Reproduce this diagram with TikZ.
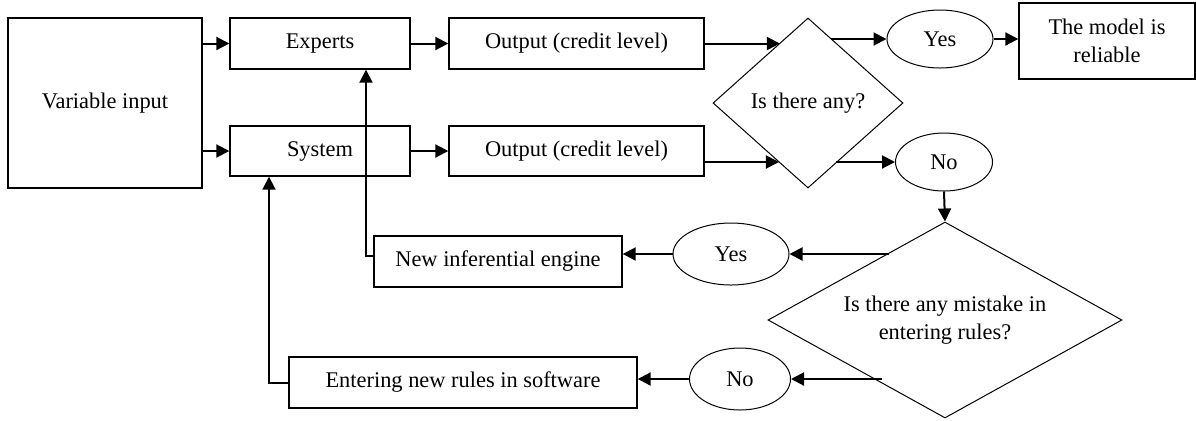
\documentclass[tikz,border=0pt]{standalone}
\usepackage{fontspec}
\setmainfont{Liberation Serif}
\usetikzlibrary{shapes.geometric,arrows.meta}
\begin{document}
\begin{tikzpicture}[x=0.5pt, y=-0.5pt,
        font=\fontsize{11.2}{14}\selectfont,
        box/.style={rectangle, draw=black, line width=0.7pt, inner sep=0pt, align=center},
        oval/.style={ellipse, draw=black, line width=0.5pt, inner sep=0pt},
        query/.style={diamond, draw=black, line width=0.5pt, inner sep=0pt, align=center},
        arr/.style={line width=1pt, -{Triangle[length=6.5pt, width=6.5pt]}}]
                \useasboundingbox (0,0) rectangle (1196,420);
                \node[box, minimum width=97pt, minimum height=85pt] (input) at (105,103) {Variable input};
                \node[box, minimum width=90pt, minimum height=25.5pt] (experts) at (320,43.5) {Experts};
                \node[box, minimum width=90pt, minimum height=25pt] (system) at (320,151) {System};
                \node[box, minimum width=127.5pt, minimum height=25.5pt] (out1) at (576.5,43.5) {Output (credit level)};
                \node[box, minimum width=127.5pt, minimum height=25pt] (out2) at (576.5,151) {Output (credit level)};
                \node[query, aspect=1.12, minimum width=95pt, minimum height=85pt] (isany) at (808,103) {Is there any?};
                \node[oval, minimum width=53pt, minimum height=29pt] (yes1) at (940,39) {Yes};
                \node[box, minimum width=88pt, minimum height=38pt] (model) at (1107,41) {The model is\\reliable};
                \node[oval, minimum width=48.5pt, minimum height=29pt] (no1) at (944,162) {No};
                \node[query, aspect=1.8, minimum width=177pt, minimum height=98pt] (mistake) at (945,320) {Is there any mistake in\\entering rules?};
                \node[oval, minimum width=58pt, minimum height=31pt] (yes2) at (731,254) {Yes};
                \node[oval, minimum width=50.5pt, minimum height=31pt] (no2) at (740,379) {No};
                \node[box, minimum width=124pt, minimum height=25.5pt] (engine) at (498,261.5) {New inferential engine};
                \node[box, minimum width=174pt, minimum height=25.5pt] (rules) at (463,382.5) {Entering new rules in software};

                \draw[arr] (input.east |- experts) -- (experts.west);
                \draw[arr] (input.east |- system) -- (system.west);
                \draw[arr] (experts.east) -- (out1.west);
                \draw[arr] (system.east) -- (out2.west);
                \draw[arr] (out1.east) -- (out1.east -| isany.115);
                \draw[arr] ([yshift=-5.5pt]out2.east) -- ([yshift=-5.5pt]out2.east -| isany.-116);
                \draw[arr] (isany.71 |- yes1.west) -- (yes1.west);
                \draw[arr] (yes1.east) -- (yes1.east -| model.west);
                \draw[arr] (isany.-65 |- no1.west) -- (no1.west);
                \draw[arr] (no1.south) -- (mistake.north);
                \draw[arr] (mistake.130 |- yes2.east) -- (yes2.east);
                \draw[arr] (mistake.-135 |- no2.east) -- (no2.east);
                \draw[arr] (yes2.west) -- (yes2.west -| engine.east);
                \draw[arr] (no2.west) -- (no2.west -| rules.east);
                \draw[arr] ([yshift=3pt]engine.west) -| ([xshift=23pt]experts.south);
                \draw[arr] (rules.west) -| ([xshift=-25.5pt]system.south);

            \end{tikzpicture}
\end{document}
